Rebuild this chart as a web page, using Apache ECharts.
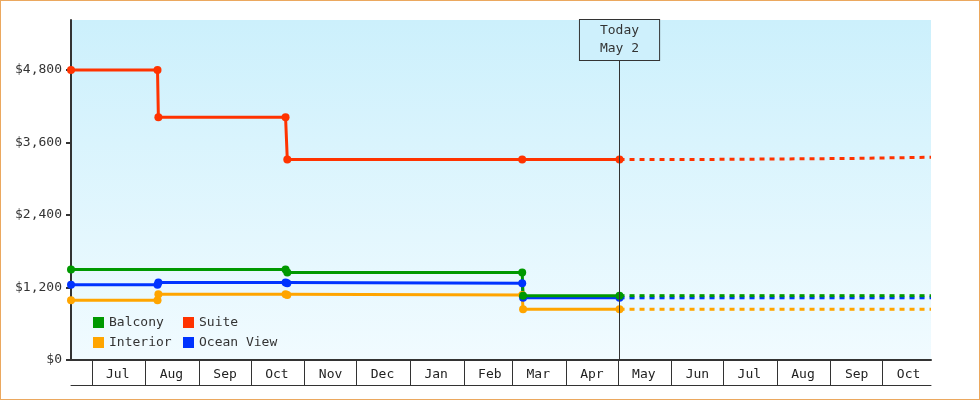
<!DOCTYPE html>
<html>
<head>
<meta charset="utf-8">
<script src="https://cdn.jsdelivr.net/npm/echarts@6/dist/echarts.min.js"></script>
<style>
  html, body { margin: 0; padding: 0; background: #ffffff; }
  #chart { position: absolute; left: 0; top: 0; width: 980px; height: 400px; }
  #frame { position: absolute; left: 0; top: 0; width: 980px; height: 400px; box-sizing: border-box; border: 1px solid #eba85f; pointer-events: none; }
</style>
</head>
<body>
<div id="chart"></div>
<div id="frame"></div>
<script>
// ---- data ----
const axisStart = '2024-06-19';
const axisEnd = '2025-10-29';
const todayDate = '2025-05-02';
const todayLabel = 'May 2';
const monthLabels = ['Jan','Feb','Mar','Apr','May','Jun','Jul','Aug','Sep','Oct','Nov','Dec'];
const yTickValues = [0, 1200, 2400, 3600, 4800];
const yMaxValue = 5630;
const legendNames = ['Balcony', 'Suite', 'Interior', 'Ocean View'];

const suitePrices = [['2024-06-19',4800],['2024-08-08',4800],['2024-08-08 12:00',4020],['2024-10-21',4020],['2024-10-22',3320],['2025-03-06 18:00',3320],['2025-05-02',3320]];
const balconyPrices = [['2024-06-19',1500],['2024-10-21',1500],['2024-10-22',1450],['2025-03-06 18:00',1450],['2025-03-07 06:00',1065],['2025-05-02',1065]];
const oceanViewPrices = [['2024-06-19',1245],['2024-08-08',1245],['2024-08-08 12:00',1285],['2024-10-21',1285],['2024-10-22',1270],['2025-03-06 18:00',1270],['2025-03-07 06:00',1030],['2025-05-02',1030]];
const interiorPrices = [['2024-06-19',990],['2024-08-08',990],['2024-08-08 12:00',1090],['2024-10-21',1090],['2024-10-22',1075],['2025-03-06 18:00',1075],['2025-03-07 06:00',840],['2025-05-02',840]];

const suiteForecast = [['2025-05-02',3320],['2025-06-17',3320],['2025-06-17',3337],['2025-09-13',3337],['2025-09-13',3358],['2025-10-29',3358]];
const balconyForecast = [['2025-05-02',1065],['2025-10-29',1065]];
const oceanViewForecast = [['2025-05-02',1030],['2025-10-29',1030]];
const interiorForecast = [['2025-05-02',840],['2025-10-29',840]];

// ---- styles ----
const FONT = 'DejaVu Sans Mono';
const colors = { 'Balcony': '#009900', 'Suite': '#ff3300', 'Interior': '#ffa500', 'Ocean View': '#0033ff' };

function solid(name, data) {
  return {
    name: name, type: 'line', data: data,
    symbol: 'circle', symbolSize: 8, showAllSymbol: true,
    itemStyle: { color: colors[name] },
    lineStyle: { color: colors[name], width: 3 },
    emphasis: { disabled: true },
    z: 3
  };
}
function forecast(name, data) {
  return {
    name: name + ' forecast', type: 'line', data: data,
    showSymbol: false, symbol: 'none',
    itemStyle: { color: colors[name] },
    lineStyle: { color: colors[name], width: 3, type: [5, 5] },
    emphasis: { disabled: true },
    z: 2
  };
}

const chart = echarts.init(document.getElementById('chart'), null, { renderer: 'canvas' });

const interiorSeries = solid('Interior', interiorPrices);
const oceanSeries = solid('Ocean View', oceanViewPrices);
const balconySeries = solid('Balcony', balconyPrices);
const suiteSeries = solid('Suite', suitePrices);
suiteSeries.markLine = {
  silent: true,
  symbol: ['none', 'none'],
  animation: false,
  lineStyle: { color: '#333333', width: 1, type: 'solid' },
  label: {
    show: true,
    position: 'end',
    distance: 0,
    formatter: 'Today\n' + todayLabel,
    fontFamily: FONT,
    fontSize: 13,
    lineHeight: 18,
    color: '#333333',
    align: 'center',
    padding: [2, 20, 2, 20],
    borderColor: '#333333',
    borderWidth: 1,
    backgroundColor: '#cef0fc'
  },
  data: [[{ coord: [todayDate, 0] }, { coord: [todayDate, yMaxValue * 300 / 340] }]]
};

chart.setOption({
  animation: false,
  backgroundColor: 'transparent',
  textStyle: { fontFamily: FONT },
  grid: {
    left: 71, top: 20, width: 860, height: 340,
    outerBoundsMode: 'none',
    show: true,
    borderWidth: 0,
    backgroundColor: new echarts.graphic.LinearGradient(0, 0, 0, 1, [
      { offset: 0, color: '#ccf0fc' },
      { offset: 1, color: '#f1fbff' }
    ])
  },
  legend: {
    data: legendNames,
    left: 93, top: 315, width: 210,
    padding: 0,
    orient: 'horizontal',
    icon: 'rect',
    itemWidth: 11, itemHeight: 11,
    itemGap: 5,
    selectedMode: false,
    textStyle: { fontFamily: FONT, fontSize: 13, color: '#333333', width: 69, height: 15, lineHeight: 15 }
  },
  xAxis: [
    {
      type: 'time',
      min: axisStart, max: axisEnd,
      splitNumber: 20,
      axisLine: { show: true, lineStyle: { color: '#333333', width: 2 } },
      axisTick: { show: true, inside: false, length: 25, lineStyle: { color: '#333333', width: 1 } },
      axisLabel: {
        show: true,
        formatter: function (v) { return monthLabels[new Date(v).getMonth()]; },
        fontFamily: FONT, fontSize: 13, color: '#222222',
        margin: 8,
        padding: [0, 0, 0, 52],
        hideOverlap: false
      },
      splitLine: { show: false }
    },
    {
      type: 'time',
      min: axisStart, max: axisEnd,
      position: 'bottom',
      offset: 25,
      axisLine: { show: true, lineStyle: { color: '#333333', width: 1 } },
      axisTick: { show: false },
      axisLabel: { show: false },
      splitLine: { show: false }
    }
  ],
  yAxis: {
    type: 'value',
    min: 0, max: yMaxValue,
    axisLine: { show: true, lineStyle: { color: '#333333', width: 2 } },
    axisTick: { show: true, length: 5, customValues: yTickValues, lineStyle: { color: '#333333', width: 2 } },
    axisLabel: {
      customValues: yTickValues,
      formatter: function (v) { return '$' + v.toLocaleString('en-US'); },
      fontFamily: FONT, fontSize: 13, color: '#333333', margin: 9
    },
    splitLine: { show: false }
  },
  series: [
    forecast('Interior', interiorForecast),
    forecast('Ocean View', oceanViewForecast),
    forecast('Balcony', balconyForecast),
    forecast('Suite', suiteForecast),
    interiorSeries, oceanSeries, balconySeries, suiteSeries
  ]
});
</script>
</body>
</html>
